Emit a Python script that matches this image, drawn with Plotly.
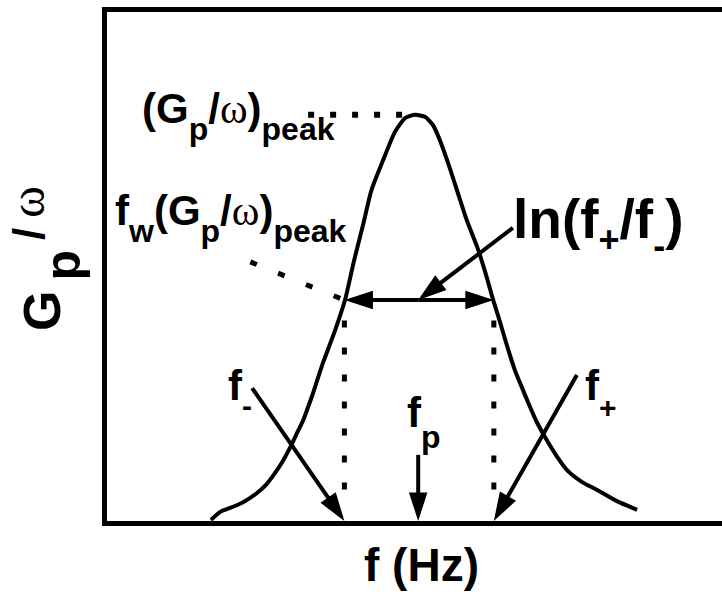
import plotly.graph_objects as go

# Loss peak of G_p/omega against frequency (log-frequency axis, arbitrary units)
freq = [16.9, 18.4, 20.5, 22.4, 24.4, 26.0, 27.3, 28.6, 29.8, 30.9, 31.9, 32.7,
        33.5, 34.3, 35.1, 37.1, 38.7, 40.2, 41.7, 43.0, 44.9, 46.8, 48.5, 50.1,
        51.7, 53.0, 54.1, 55.3, 56.1, 56.9, 58.5, 60.2, 61.5, 62.8, 63.9, 65.0,
        66.3, 67.3, 68.3, 69.9, 71.5, 73.2, 74.8, 77.2, 79.7, 82.9, 86.2]
gp_omega = [0.2, 1.8, 2.8, 3.9, 5.5, 7.3, 9.4, 11.8, 14.5, 17.3, 19.8, 22.4,
            25.1, 28.1, 31.0, 37.5, 43.4, 51.3, 58.5, 65.0, 70.9, 76.4, 79.2, 79.8,
            79.4, 77.8, 74.9, 70.9, 68.0, 65.0, 59.1, 53.8, 48.9, 43.4, 39.1, 34.6,
            29.7, 26.7, 23.8, 19.4, 15.9, 12.6, 10.0, 7.7, 6.1, 3.9, 2.2]

# Characteristic values of the peak
f_p = 50.6          # peak frequency
peak = 79.8         # (G_p/omega)_peak
f_w = 0.544         # fraction of the peak height used for the width
f_minus = 38.6      # lower frequency at f_w * peak
f_plus = 62.9       # upper frequency at f_w * peak
level = f_w * peak

SANS = "Liberation Sans, Arial, sans-serif"
SERIF = "Liberation Serif, Times New Roman, serif"
BLACK = "black"
ASC = 0.905  # ascent of the sans face, in em

# page geometry of the plotting area
W, H = 722, 592
L, R, T, B = 107, 0, 12, 71
PW, PH = W - L - R, H - T - B


def omega(size):
    return ('<span style="font-family:%s;font-weight:normal;font-size:%dpx">ω</span>'
            % (SERIF, size))


def sub(t, size, drop):
    return '<span style="font-size:%dpx;baseline-shift:-%dpx">%s</span>' % (size, drop, t)


def sup(t, size, rise):
    return '<span style="font-size:%dpx;baseline-shift:%dpx">%s</span>' % (size, rise, t)


fig = go.Figure()

# the loss peak
fig.add_trace(go.Scatter(x=freq, y=gp_omega, mode="lines",
                         line=dict(color=BLACK, width=4, shape="spline", smoothing=0.6),
                         hoverinfo="skip"))


def dotted(xs, ys, dash, width):
    fig.add_trace(go.Scatter(x=xs, y=ys, mode="lines",
                             line=dict(color=BLACK, width=width, dash=dash),
                             hoverinfo="skip"))


def arrow(x0, y0, x1, y1, size=30, width=4):
    fig.add_trace(go.Scatter(x=[x0, x1], y=[y0, y1], mode="lines+markers",
                             line=dict(color=BLACK, width=width),
                             marker=dict(symbol="arrow", size=[0, size], color=BLACK,
                                         opacity=1, line=dict(width=0),
                                         angleref="previous"),
                             hoverinfo="skip"))


# dotted guides
dotted([32.7, f_p], [peak, peak], "6px,16px", 6)
dotted([23.3, f_minus], [50.9, level], "7px,23px", 5)
dotted([f_minus, f_minus], [level - 4.0, 3.0], "7px,20px", 5)
dotted([f_plus, f_plus], [level - 4.0, 3.0], "7px,20px", 5)

# width of the peak: double-headed arrow at f_w * peak
arrow(f_p, level, f_minus, level)
arrow(f_p, level, f_plus, level)
# ln(f+/f-) pointer
arrow(66.0, 57.6, f_p, level)
# frequency pointers
arrow(23.6, 26.1, f_minus, 0)
arrow(f_p, 13.0, f_p, 0)
arrow(76.4, 28.7, f_plus, 0)


def to_paper(px, py):
    return (px - L) / PW, (T + PH - py) / PH


def label(text, left, base, size, xanchor="left"):
    # place a label by the left end (or centre) of its main baseline, in page pixels
    x, y = to_paper(left, base - ASC * size)
    fig.add_annotation(xref="paper", yref="paper", x=x, y=y, text=text, showarrow=False,
                       xanchor=xanchor, yanchor="top", borderpad=0, borderwidth=0,
                       font=dict(family=SANS, size=size, color=BLACK, weight="bold"))


M, SB = 42, 32
gp_peak = "(G" + sub("p", SB, 17) + "/" + omega(M) + ")" + sub("peak", SB, 17)
label(gp_peak, 142, 123, M)
label("f" + sub("w", SB, 17) + gp_peak, 115, 225, M)
label("ln(f" + sub("+", 36, 14) + "/f" + sub("-", 36, 20) + ")", 513, 238, 55)
label("f" + sub("-", 30, 16), 228, 400, M)
label("f" + sub("+", 30, 18), 585, 400, M)
label("f" + sub("p", SB, 21), 407, 427, M)

# axis titles
label("f (Hz)", 421, 581, 46, xanchor="center")
yx, yy = to_paper(46, 254)
fig.add_annotation(xref="paper", yref="paper", x=yx, y=yy, textangle=-90,
                   text='<span style="letter-spacing:10px">G' + sub("p", 50, 20)
                   + sup("/" + omega(48), 44, 16) + "</span>",
                   showarrow=False, xanchor="center", yanchor="middle",
                   borderpad=0, borderwidth=0,
                   font=dict(family=SANS, size=52, color=BLACK, weight="bold"))

fig.update_layout(
    width=W, height=H,
    margin=dict(l=L, r=R, t=T, b=B),
    paper_bgcolor="white", plot_bgcolor="white",
    showlegend=False,
    xaxis=dict(range=[0, 100], showline=True, mirror=True, linewidth=4.5, linecolor=BLACK,
               showticklabels=False, ticks="", showgrid=False, zeroline=False),
    yaxis=dict(range=[0, 100], showline=True, mirror=False, linewidth=4.5, linecolor=BLACK,
               showticklabels=False, ticks="", showgrid=False, zeroline=False),
)

fig.write_html("out.html")
